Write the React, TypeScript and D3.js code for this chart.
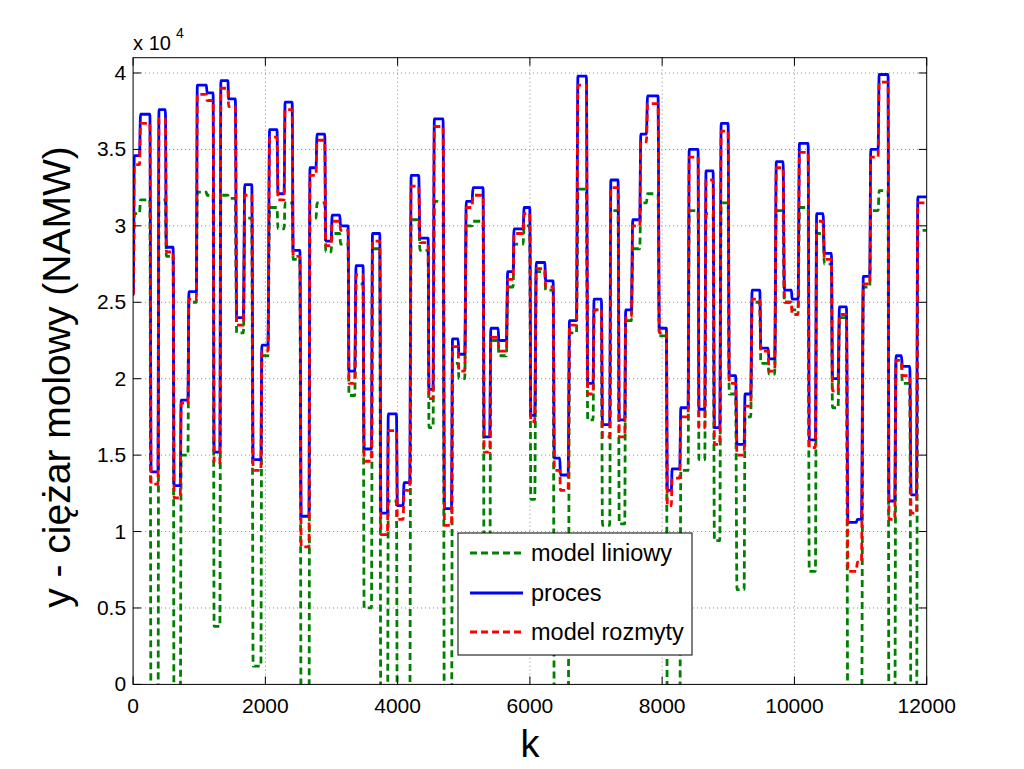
import React from "react";
import * as d3 from "d3";

// Segment boundaries (k) and plateau levels (x 10^4) for each series
const segStart = [0, 18, 112, 272, 391, 503, 620, 727, 844, 971, 1118, 1225, 1327, 1444, 1566, 1688, 1815, 1947, 2064, 2191, 2298, 2420, 2542, 2674, 2781, 2913, 3010, 3137, 3264, 3371, 3493, 3620, 3747, 3859, 3996, 4098, 4204, 4337, 4474, 4555, 4708, 4830, 4926, 5038, 5140, 5308, 5409, 5531, 5664, 5760, 5913, 6014, 6096, 6238, 6370, 6462, 6599, 6726, 6874, 6970, 7097, 7224, 7351, 7448, 7555, 7677, 7779, 7956, 8078, 8150, 8282, 8409, 8556, 8663, 8790, 8892, 9014, 9131, 9253, 9360, 9492, 9614, 9726, 9848, 9965, 10076, 10224, 10336, 10453, 10575, 10681, 10809, 10951, 11042, 11154, 11281, 11429, 11536, 11632, 11764, 11866];
const segEnd = [3, 97, 254, 376, 488, 605, 712, 829, 956, 1108, 1210, 1312, 1434, 1546, 1668, 1795, 1932, 2039, 2176, 2283, 2405, 2522, 2659, 2766, 2898, 2994, 3125, 3251, 3352, 3477, 3604, 3730, 3846, 3982, 4082, 4183, 4319, 4461, 4535, 4687, 4814, 4914, 5015, 5125, 5292, 5393, 5519, 5645, 5746, 5897, 5998, 6073, 6225, 6351, 6452, 6578, 6704, 6854, 6955, 7081, 7207, 7333, 7434, 7535, 7661, 7762, 7938, 8064, 8139, 8266, 8392, 8543, 8644, 8770, 8871, 8997, 9111, 9239, 9339, 9476, 9602, 9702, 9828, 9954, 10055, 10207, 10317, 10433, 10559, 10660, 10786, 10937, 11013, 11139, 11265, 11416, 11516, 11617, 11744, 11845, 12000];
const procVals = [2.55, 3.46, 3.73, 1.39, 3.76, 2.86, 1.30, 1.86, 2.57, 3.92, 3.87, 1.52, 3.95, 3.83, 2.40, 3.27, 1.47, 2.22, 3.63, 3.21, 3.81, 2.84, 1.10, 3.38, 3.60, 2.90, 3.07, 3.00, 2.05, 2.74, 1.54, 2.95, 1.12, 1.77, 1.17, 1.32, 3.33, 2.92, 1.93, 3.70, 1.15, 2.26, 2.16, 3.16, 3.25, 1.62, 2.33, 2.25, 2.70, 2.98, 3.12, 1.76, 2.76, 2.64, 1.48, 1.37, 2.38, 3.98, 1.97, 2.52, 1.70, 3.30, 1.73, 2.45, 3.04, 3.60, 3.85, 2.33, 1.27, 1.41, 1.81, 3.50, 1.80, 3.36, 1.68, 3.67, 2.02, 1.57, 1.90, 2.58, 2.20, 2.13, 3.42, 2.58, 2.52, 3.54, 1.60, 3.08, 2.82, 2.00, 2.47, 1.06, 1.08, 2.67, 3.50, 3.99, 1.20, 2.15, 2.08, 1.24, 3.19];
const fuzzyVals = [2.55, 3.40, 3.67, 1.31, 3.70, 2.83, 1.22, 1.84, 2.52, 3.86, 3.82, 1.45, 3.90, 3.78, 2.35, 3.20, 1.40, 2.18, 3.58, 3.17, 3.76, 2.80, 0.90, 3.33, 3.56, 2.87, 3.03, 2.97, 1.97, 2.68, 1.46, 2.90, 0.98, 1.66, 1.08, 1.27, 3.26, 2.89, 1.87, 3.65, 1.04, 2.21, 2.05, 3.12, 3.20, 1.52, 2.27, 2.18, 2.65, 2.95, 3.08, 1.72, 2.72, 2.60, 1.40, 1.27, 2.35, 3.92, 1.90, 2.45, 1.62, 3.25, 1.62, 2.40, 3.00, 3.55, 3.80, 2.30, 1.17, 1.35, 1.75, 3.45, 1.68, 3.30, 1.57, 3.62, 1.97, 1.50, 1.82, 2.52, 2.18, 2.05, 3.38, 2.50, 2.42, 3.48, 1.55, 3.03, 2.78, 1.92, 2.42, 0.74, 0.80, 2.62, 3.45, 3.94, 1.08, 2.12, 2.02, 1.12, 3.15];
const linVals = [2.55, 3.08, 3.17, -0.5, 3.17, 2.80, -0.5, 1.50, 2.50, 3.22, 3.20, 0.38, 3.20, 3.18, 2.30, 3.05, 0.12, 2.15, 3.12, 2.98, 3.15, 2.78, -0.5, 3.05, 3.15, 2.83, 2.95, 2.88, 1.89, 2.62, 0.50, 2.85, -0.5, 1.20, -0.5, -0.3, 3.04, 2.84, 1.68, 3.16, -0.5, 2.10, 2.00, 3.00, 3.03, 0.50, 2.25, 2.15, 2.60, 2.88, 3.00, 1.21, 2.70, 2.58, -0.5, -0.5, 2.30, 3.24, 1.73, 2.45, 1.04, 3.10, 1.05, 2.38, 2.85, 3.15, 3.21, 2.28, -0.5, -0.5, 1.40, 3.10, 1.47, 3.08, 0.94, 3.15, 1.90, 0.62, 1.75, 2.50, 2.10, 2.03, 3.10, 2.50, 2.45, 3.12, 0.74, 2.95, 2.75, 1.81, 2.40, -0.5, -0.5, 2.60, 3.10, 3.23, -0.5, 2.10, 1.97, -0.5, 2.97];

const xTicks = [0, 2000, 4000, 6000, 8000, 10000, 12000];
const yTicks = [0, 0.5, 1, 1.5, 2, 2.5, 3, 3.5, 4];
const yTickLabels = ["0", "0.5", "1", "1.5", "2", "2.5", "3", "3.5", "4"];
const legendLabels = ["model liniowy", "proces", "model rozmyty"];

const FONT = "'Liberation Sans', Arial, Helvetica, sans-serif";

export default function App() {
  const left = 133.1, right = 926.7, top = 57.7, bottom = 684.4;
  const x = d3.scaleLinear().domain([0, 12000]).range([left, right]);
  const y = d3.scaleLinear().domain([0, 4.1]).range([bottom, top]);

  const pts = (vals: number[]) => {
    const out: [number, number][] = [];
    vals.forEach((v, i) => {
      out.push([segStart[i], v]);
      out.push([segEnd[i], v]);
    });
    return out;
  };
  const line = d3
    .line<[number, number]>()
    .x((d) => x(d[0]))
    .y((d) => y(d[1]))
    .curve(d3.curveMonotoneX);

  const series = [
    { vals: linVals, color: "#008000", dash: "7 4" },
    { vals: procVals, color: "#0000ff", dash: "" },
    { vals: fuzzyVals, color: "#ff0000", dash: "7 4" },
  ];

  const tickLen = 8;
  const lg = { x: 458, y: 533, w: 234, h: 122 };
  const lgRows = [553, 593, 632];

  return (
    <svg width={1024} height={769} style={{ position: "absolute", left: 0, top: 0, background: "#fff" }}>
      <rect x={0} y={0} width={1024} height={769} fill="#fff" />
      <defs>
        <clipPath id="plotclip">
          <rect x={left} y={top} width={right - left} height={bottom - top} />
        </clipPath>
      </defs>
      {/* grid */}
      <g stroke="#8a8a8a" strokeWidth={1} strokeDasharray="1 3">
        {xTicks.slice(1, -1).map((t) => (
          <line key={"gx" + t} x1={x(t)} x2={x(t)} y1={top} y2={bottom} />
        ))}
        {yTicks.slice(1).map((t) => (
          <line key={"gy" + t} x1={left} x2={right} y1={y(t)} y2={y(t)} />
        ))}
      </g>
      {/* series */}
      <g clipPath="url(#plotclip)" fill="none">
        {series.map((s, i) => (
          <path
            key={i}
            d={line(pts(s.vals)) || ""}
            stroke={s.color}
            strokeWidth={2.8}
            strokeDasharray={s.dash || undefined}
            strokeLinejoin="round"
          />
        ))}
      </g>
      {/* box and ticks */}
      <rect x={left} y={top} width={right - left} height={bottom - top} fill="none" stroke="#000" strokeWidth={1} />
      <g stroke="#000" strokeWidth={1}>
        {xTicks.map((t) => (
          <g key={"xt" + t}>
            <line x1={x(t)} x2={x(t)} y1={bottom} y2={bottom - tickLen} />
            <line x1={x(t)} x2={x(t)} y1={top} y2={top + tickLen} />
          </g>
        ))}
        {yTicks.map((t) => (
          <g key={"yt" + t}>
            <line x1={left} x2={left + tickLen} y1={y(t)} y2={y(t)} />
            <line x1={right} x2={right - tickLen} y1={y(t)} y2={y(t)} />
          </g>
        ))}
      </g>
      <g fontFamily={FONT} fontSize={21} fill="#000">
        {xTicks.map((t) => (
          <text key={"xl" + t} x={x(t)} y={bottom + 29} textAnchor="middle">
            {t}
          </text>
        ))}
        {yTicks.map((t, i) => (
          <text key={"yl" + t} x={left - 7} y={y(t) + 7} textAnchor="end">
            {yTickLabels[i]}
          </text>
        ))}
        <text x={left} y={50} fontSize={20}>x 10</text>
        <text x={176} y={38} fontSize={14}>4</text>
      </g>
      <text x={(left + right) / 2} y={757} textAnchor="middle" fontFamily={FONT} fontSize={38}>
        k
      </text>
      <text
        transform={`translate(70, ${(top + bottom) / 2 + 6}) rotate(-90)`}
        textAnchor="middle"
        fontFamily={FONT}
        fontSize={39}
      >
        y - ciężar molowy (NAMW)
      </text>
      {/* legend */}
      <rect x={lg.x} y={lg.y} width={lg.w} height={lg.h} fill="#fff" stroke="#000" strokeWidth={1} />
      {series.map((s, i) => (
        <g key={"lg" + i}>
          <line
            x1={470}
            x2={523}
            y1={lgRows[i]}
            y2={lgRows[i]}
            stroke={s.color}
            strokeWidth={2.8}
            strokeDasharray={s.dash || undefined}
          />
          <text x={531} y={lgRows[i] + 8} fontFamily={FONT} fontSize={23.5}>
            {legendLabels[i]}
          </text>
        </g>
      ))}
    </svg>
  );
}
